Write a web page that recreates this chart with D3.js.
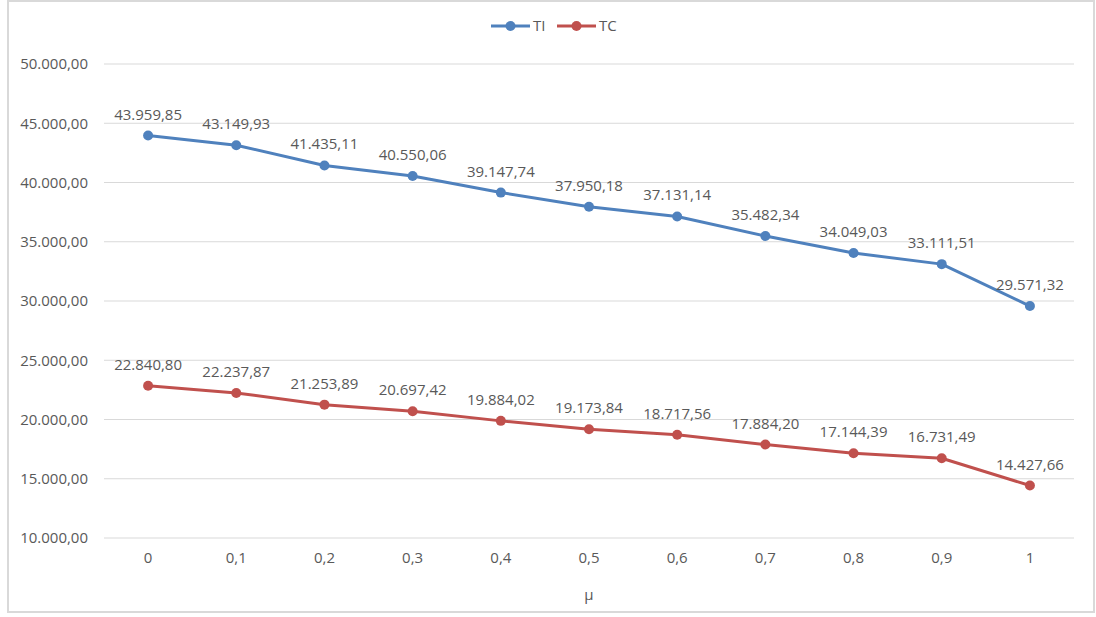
<!DOCTYPE html>
<html>
<head>
<meta charset="utf-8">
<script src="https://cdn.jsdelivr.net/npm/d3@7"></script>
<style>
  html, body { margin: 0; padding: 0; background: #fff; }
  svg text { font-family: "Open Sans", "Noto Sans", sans-serif; fill: #595959; }
</style>
</head>
<body>
<svg id="chart" width="1096" height="617"></svg>
<script>
// μ values along the x axis
const categories = ["0", "0,1", "0,2", "0,3", "0,4", "0,5", "0,6", "0,7", "0,8", "0,9", "1"];
// Series values
const tiValues = [43959.85, 43149.93, 41435.11, 40550.06, 39147.74, 37950.18, 37131.14, 35482.34, 34049.03, 33111.51, 29571.32];
const tcValues = [22840.80, 22237.87, 21253.89, 20697.42, 19884.02, 19173.84, 18717.56, 17884.20, 17144.39, 16731.49, 14427.66];
const yTicks = [10000, 15000, 20000, 25000, 30000, 35000, 40000, 45000, 50000];
const seriesNames = ["TI", "TC"];
const seriesColors = ["#4f81bd", "#c0504d"];

const series = [
  { name: seriesNames[0], values: tiValues, color: seriesColors[0] },
  { name: seriesNames[1], values: tcValues, color: seriesColors[1] }
];

const svg = d3.select("#chart");
const W = 1096, H = 617;

// Outer chart border
svg.append("rect")
  .attr("x", 8).attr("y", 1).attr("width", 1086).attr("height", 611)
  .attr("fill", "#fff").attr("stroke", "#d9d9d9").attr("stroke-width", 2);

const plot = { left: 104, right: 1074, top: 64, bottom: 538 };

const x = d3.scaleBand().domain(categories).range([plot.left, plot.right]);
const y = d3.scaleLinear().domain([10000, 50000]).range([plot.bottom, plot.top]);

// Number format with "." thousands and "," decimal separators
const fmt = d3.formatLocale({ decimal: ",", thousands: ".", grouping: [3], currency: ["", ""] }).format(",.2f");

// Horizontal gridlines
svg.append("g")
  .selectAll("line")
  .data(yTicks)
  .join("line")
  .attr("x1", plot.left).attr("x2", plot.right)
  .attr("y1", d => y(d)).attr("y2", d => y(d))
  .attr("stroke", "#d9d9d9").attr("stroke-width", 1);

// Y axis labels
const yAxis = d3.axisLeft(y).tickValues(yTicks).tickFormat(fmt).tickSize(0).tickPadding(16);
const gy = svg.append("g").attr("transform", `translate(${plot.left},0)`).call(yAxis);
gy.select(".domain").remove();
gy.selectAll("text").style("font-size", "15px").attr("fill", "#595959");

// X axis labels
const xAxis = d3.axisBottom(x).tickSize(0).tickPadding(14);
const gx = svg.append("g").attr("transform", `translate(0,${plot.bottom})`).call(xAxis);
gx.select(".domain").remove();
gx.selectAll("text").style("font-size", "15px").attr("fill", "#595959");

// X axis title
svg.append("text")
  .attr("x", (plot.left + plot.right) / 2).attr("y", 600)
  .attr("text-anchor", "middle").style("font-size", "15px")
  .text("μ");

const cx = c => x(c) + x.bandwidth() / 2;

const line = d3.line()
  .x((d, i) => cx(categories[i]))
  .y(d => y(d));

series.forEach(s => {
  const g = svg.append("g");
  g.append("path")
    .datum(s.values)
    .attr("d", line)
    .attr("fill", "none")
    .attr("stroke", s.color)
    .attr("stroke-width", 3)
    .attr("stroke-linejoin", "round");
  g.selectAll("circle")
    .data(s.values)
    .join("circle")
    .attr("cx", (d, i) => cx(categories[i]))
    .attr("cy", d => y(d))
    .attr("r", 5)
    .attr("fill", s.color);
  g.selectAll("text")
    .data(s.values)
    .join("text")
    .attr("x", (d, i) => cx(categories[i]))
    .attr("y", d => y(d) - 16)
    .attr("text-anchor", "middle")
    .style("font-size", "15px")
    .text(d => fmt(d));
});

// Legend
const legendItems = [
  { name: seriesNames[0], color: seriesColors[0], x: 491 },
  { name: seriesNames[1], color: seriesColors[1], x: 557 }
];
const lg = svg.append("g");
legendItems.forEach(it => {
  lg.append("line")
    .attr("x1", it.x).attr("x2", it.x + 39)
    .attr("y1", 26).attr("y2", 26)
    .attr("stroke", it.color).attr("stroke-width", 3);
  lg.append("circle")
    .attr("cx", it.x + 19.5).attr("cy", 26).attr("r", 5)
    .attr("fill", it.color);
  lg.append("text")
    .attr("x", it.x + 42).attr("y", 31)
    .style("font-size", "15px")
    .text(it.name);
});
</script>
</body>
</html>
